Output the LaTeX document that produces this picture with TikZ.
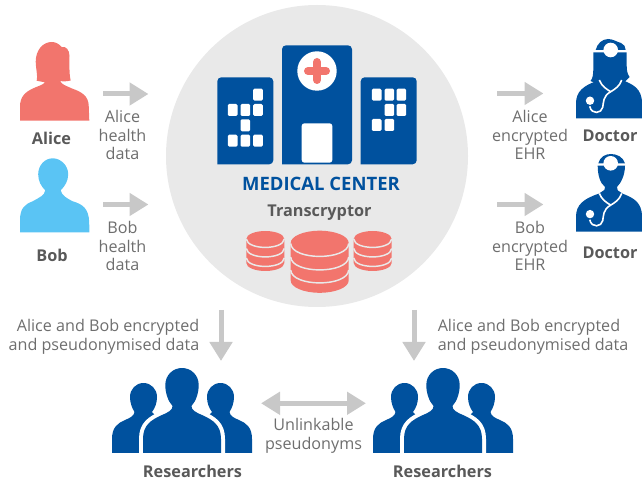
\documentclass[tikz,border=0pt]{standalone}
\usepackage{fontspec}
\setmainfont{Open Sans}
\usetikzlibrary{arrows.meta}
\definecolor{navy}{HTML}{00519E}
\definecolor{salmon}{HTML}{F2756D}
\definecolor{sky}{HTML}{5AC4F4}
\definecolor{disc}{HTML}{E9E9E9}
\definecolor{arrowgray}{HTML}{C8C8C8}
\definecolor{txt}{HTML}{6E6E6E}
\definecolor{txtb}{HTML}{595959}
\tikzset{
  x=0.75pt,y=-0.75pt,
  lbl/.style={text=txt,align=center,inner sep=0pt,font=\fontsize{12.1}{13.9}\selectfont},
  name lbl/.style={text=txtb,inner sep=0pt,font=\fontsize{12.2}{14}\selectfont\bfseries},
  flow/.style={draw=arrowgray,line width=3.75pt,-{Triangle[length=14.25pt,width=16.5pt]}},
  flowboth/.style={draw=arrowgray,line width=3.75pt,{Triangle[length=14.25pt,width=16.5pt]}-{Triangle[length=14.25pt,width=16.5pt]}},
  win/.style={fill=white,rounded corners=1pt},
  steth/.style={draw=white,line width=1.2pt,fill=none},
  band/.style={draw=disc,line width=1.1pt,fill=none},
  pics/bobshape/.style={code={
    \fill[#1] (-34.7,0) -- (-34.7,-12) .. controls (-34.7,-24) and (-30,-28) .. (-22,-31)
      .. controls (-15,-35) and (-10,-37) .. (-9.5,-42)
      .. controls (-13.5,-46) and (-16.5,-51) .. (-16.5,-58)
      .. controls (-16.5,-67) and (-10,-74) .. (-2,-74)
      .. controls (6,-74) and (13.5,-67) .. (13.5,-58)
      .. controls (13.5,-51) and (10,-46) .. (6,-42)
      .. controls (7,-37) and (12,-34) .. (18,-31)
      .. controls (28,-28) and (34,-24) .. (34.5,-10) -- (34.7,0) -- cycle;
  }},
  pics/doctorbody/.style={code={
    \fill[navy] (-34.7,0) -- (-34.7,-15) .. controls (-34.7,-27) and (-27,-33) .. (-12,-38)
      -- (-6,-42) -- (6,-42) -- (12,-38)
      .. controls (22,-34) and (31.3,-30) .. (31.3,-15) -- (31.3,0) -- cycle;
    \draw[steth] (-11.4,-38.3) .. controls (-9,-32) and (-4,-29) .. (0,-26.6)
      .. controls (4,-29) and (9,-32) .. (11,-38.3);
    \draw[steth] (0,-26.6) .. controls (-8,-22) and (-7,-16) .. (-8,-11)
      .. controls (-9,-5) and (-19,-3) .. (-21,-12);
    \fill[white] (-20.7,-17.6) circle[radius=4.2];
  }},
  pics/dbstack/.style args={#1/#2/#3/#4}{code={
    \fill[salmon] (-#1,0) arc[start angle=180,end angle=0,x radius=#1,y radius=-#2]
      -- (#1,#3) arc[start angle=0,end angle=-180,x radius=#1,y radius=-#2] -- cycle;
    \foreach \b in {#4}{
      \draw[band] (-#1,\b) .. controls (-#1+1,\b+#2*1.4) and (#1-1,\b+#2*1.4) .. (#1,\b);
    }
  }},
  pics/researchers/.style={code={
    \fill[navy] (-70,0) -- (-70,-14) .. controls (-70,-26) and (-64,-30) .. (-57,-33)
      .. controls (-52,-35) and (-48,-37) .. (-47.5,-41)
      .. controls (-50,-45) and (-52,-50) .. (-52,-56)
      .. controls (-52,-64) and (-46,-70) .. (-38.5,-70)
      .. controls (-31,-70) and (-25,-64) .. (-25,-56)
      .. controls (-25,-50) and (-27,-45) .. (-30,-41)
      -- (-20,-30) -- (-20,0) -- cycle;
    \fill[navy] (70,0) -- (70,-14) .. controls (70,-26) and (64,-30) .. (57,-33)
      .. controls (52,-35) and (48,-37) .. (47.5,-41)
      .. controls (50,-45) and (52,-50) .. (52,-56)
      .. controls (52,-64) and (46,-70) .. (38.5,-70)
      .. controls (31,-70) and (25,-64) .. (25,-56)
      .. controls (25,-50) and (27,-45) .. (30,-41)
      -- (20,-30) -- (20,0) -- cycle;
    \path[draw=white,line width=6pt,line join=round] (-39,3) -- (-39,-14) .. controls (-39,-28) and (-31,-33) .. (-20,-38)
      .. controls (-13,-41) and (-9.5,-43) .. (-9.5,-47)
      .. controls (-14,-52) and (-16.7,-60) .. (-16.7,-68)
      .. controls (-16.7,-78) and (-9,-85) .. (0,-85)
      .. controls (9,-85) and (16.7,-78) .. (16.7,-68)
      .. controls (16.7,-60) and (14,-52) .. (9.5,-47)
      .. controls (9.5,-43) and (13,-41) .. (20,-38)
      .. controls (31,-33) and (39,-28) .. (39,-14) -- (39,3) -- cycle;
    \fill[navy] (-39,0) -- (-39,-14) .. controls (-39,-28) and (-31,-33) .. (-20,-38)
      .. controls (-13,-41) and (-9.5,-43) .. (-9.5,-47)
      .. controls (-14,-52) and (-16.7,-60) .. (-16.7,-68)
      .. controls (-16.7,-78) and (-9,-85) .. (0,-85)
      .. controls (9,-85) and (16.7,-78) .. (16.7,-68)
      .. controls (16.7,-60) and (14,-52) .. (9.5,-47)
      .. controls (9.5,-43) and (13,-41) .. (20,-38)
      .. controls (31,-33) and (39,-28) .. (39,-14) -- (39,0) -- cycle;
    \fill[white] (-75,0) rectangle (75,8);
  }}
}
\begin{document}
\begin{tikzpicture}
\useasboundingbox (0,0) rectangle (642,484);
% central disc
\fill[disc] (317,156) circle[radius=151];

% Alice
\fill[salmon] (20,120.7) -- (20,106.7) .. controls (20,97) and (25,92) .. (33.3,88.3)
  .. controls (38,86) and (43,85) .. (45,82.3)
  .. controls (42,81.5) and (39,81.5) .. (36.7,80.7)
  .. controls (38,76) and (35.7,68) .. (35.7,61.7)
  .. controls (35.7,50) and (43,42) .. (51.7,42)
  .. controls (56,42) and (59,44) .. (61.7,47)
  .. controls (66,46) and (69.5,50) .. (69.5,56)
  .. controls (69.5,64) and (69,74) .. (70.7,80.5)
  .. controls (67,81.5) and (63,81.5) .. (60,81)
  .. controls (62,85) and (67,86) .. (72,88.5)
  .. controls (82,92) and (88,96) .. (88.7,105) -- (89.3,120.7) -- cycle;
% Bob
\pic at (54.7,232.3) {bobshape=sky};

% Buildings
\fill[navy,rounded corners=3pt] (217.3,164.3) -- (217.3,77.3) -- (273.3,77.3) -- (273.3,164.3) [sharp corners] -- cycle;
\fill[navy,rounded corners=3pt] (282,164.3) -- (282,45.3) -- (352,45.3) -- (352,164.3) [sharp corners] -- cycle;
\fill[navy,rounded corners=3pt] (360.7,164.3) -- (360.7,77.3) -- (416.7,77.3) -- (416.7,164.3) [sharp corners] -- cycle;
\fill[white] (317,71) circle[radius=19.7];
\draw[salmon,line width=6pt,line cap=round] (308,71) -- (326,71) (317,62) -- (317,80);
\fill[win,rounded corners=2pt] (301.7,123.3) rectangle (332.3,162.7);
\foreach \cx/\cy in {258/94.7,232.7/110,245.3/110,258/110,245.3/125.3,232.7/140.7,245.3/140.7,258/140.7,
  376.7/94.7,389.3/94.7,401.3/94.7,389.3/110,401.3/110,376.7/125,389.3/125}{
  \fill[win] (\cx-4.8,\cy-6) rectangle (\cx+4.8,\cy+6);
}

% Databases
\pic at (265.3,239) {dbstack=19/8/24/{0,9.5,19}};
\pic at (372.7,239) {dbstack=19/8/24/{0,9.5,19}};
\pic at (319.7,243) {dbstack=29/12.3/37.5/{0.5,14,27}};

% Doctors
\fill[navy] (593.3,52.5) -- (593.3,68) .. controls (593.3,74) and (593,78) .. (590.5,81)
  -- (600,85) -- (622,85) -- (629.5,77)
  .. controls (627,73) and (626.7,70) .. (626.7,65) -- (626.7,52.5) -- cycle;
\fill[navy] (595.7,50) .. controls (597,44) and (602,39) .. (608,39)
  .. controls (613,39) and (617,42) .. (621,43)
  .. controls (624,44) and (625.7,47) .. (625.7,50) -- cycle;
\fill[white] (610.7,50) circle[radius=7.3];
\pic at (610.7,118.3) {doctorbody};

\fill[navy] (597.7,165.7) -- (625,165.7) .. controls (625,175) and (621,183) .. (617,187)
  -- (618,192) -- (604,192) -- (605,187)
  .. controls (600,183) and (597.7,175) .. (597.7,165.7) -- cycle;
\fill[navy] (598.3,163.3) .. controls (600,157) and (605,154) .. (611,154)
  .. controls (617,154) and (623,157) .. (625,163.3) -- cycle;
\fill[white] (610.7,163.3) circle[radius=7.3];
\pic at (610.7,231.7) {doctorbody};

% Researchers
\pic at (182,453) {researchers};
\pic at (443,453) {researchers};

% Arrows
\coordinate (a1s) at (103,94);    \coordinate (a1e) at (148.5,94);
\coordinate (a2s) at (103,204.5); \coordinate (a2e) at (148.5,204.5);
\coordinate (a3s) at (497,93.5);  \coordinate (a3e) at (543.5,93.5);
\coordinate (a4s) at (497,204.5); \coordinate (a4e) at (543.5,204.5);
\coordinate (a5s) at (221,310);   \coordinate (a5e) at (221,361);
\coordinate (a6s) at (414,310);   \coordinate (a6e) at (414,361);
\coordinate (a7s) at (261,403.3); \coordinate (a7e) at (366,403.3);
\draw[flow] (a1s) -- (a1e);
\draw[flow] (a2s) -- (a2e);
\draw[flow] (a3s) -- (a3e);
\draw[flow] (a4s) -- (a4e);
\draw[flow] (a5s) -- (a5e);
\draw[flow] (a6s) -- (a6e);
\draw[flowboth] (a7s) -- (a7e);

% Labels
\node[name lbl] (alice) at (51.5,138) {Alice};
\node[name lbl] (bob) at (52,255) {Bob};
\node[name lbl] (doc1) at (610,136) {Doctor};
\node[name lbl] (doc2) at (610,253) {Doctor};
\node[lbl] (ad) at (122.5,135) {Alice\\health\\data};
\node[lbl] (bd) at (122.5,246) {Bob\\health\\data};
\node[lbl] (ae) at (530,135) {Alice\\encrypted\\EHR};
\node[lbl] (be) at (530,246) {Bob\\encrypted\\EHR};
\node[lbl,align=right,anchor=east] (p1) at (199.5,337) {Alice and Bob encrypted\\and pseudonymised data};
\node[lbl,align=left,anchor=west] (p2) at (437.5,337) {Alice and Bob encrypted\\and pseudonymised data};
\node[lbl] (un) at (313.5,436) {Unlinkable\\pseudonyms};
\node[name lbl] (r1) at (192.5,471) {Researchers};
\node[name lbl] (r2) at (442.5,471) {Researchers};
\node[inner sep=0pt,text=navy,font=\fontsize{13.85}{15}\selectfont\bfseries] (mc) at (321,184) {MEDICAL CENTER};
\node[name lbl] (tr) at (319.5,213) {Transcryptor};
\end{tikzpicture}
\end{document}
